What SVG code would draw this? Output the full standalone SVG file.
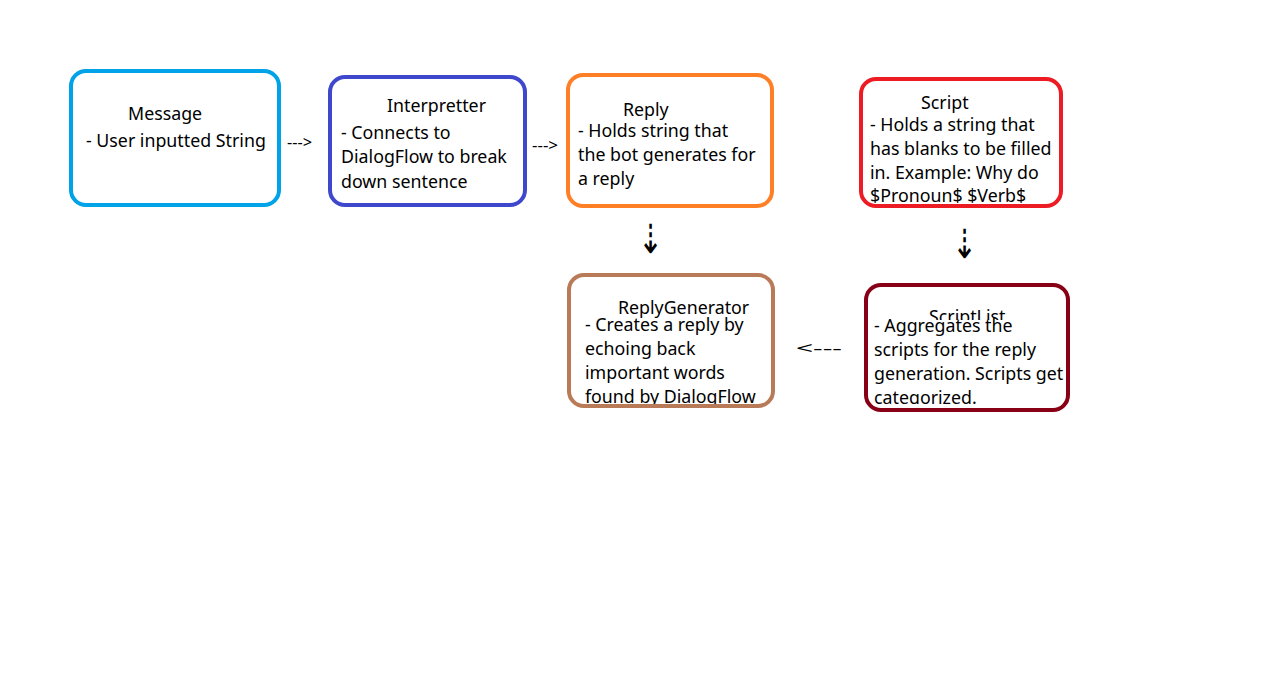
<svg xmlns="http://www.w3.org/2000/svg" width="1274" height="689" viewBox="0 0 1274 689">
<style>
.box{fill:#fff;stroke-width:4}
.t{font-family:"Noto Sans","Liberation Sans",sans-serif;font-size:17.8px;fill:#000}
.arr{font-family:"Noto Sans","Liberation Sans",sans-serif;font-size:16px;fill:#000}
.darr{font-family:"DejaVu Sans",sans-serif;font-weight:200;font-size:40px;fill:#000;text-anchor:middle}
</style>
<defs>
<clipPath id="cpRG"><rect x="560" y="260" width="230" height="144"/></clipPath>
<clipPath id="cpSLt"><rect x="860" y="280" width="220" height="40"/></clipPath>
<clipPath id="cpSLb"><rect x="860" y="318" width="220" height="86"/></clipPath>
</defs>
<rect width="1274" height="689" fill="#fff"/>
<g id="message">
<rect class="box" x="71" y="71" width="208" height="134" rx="15" stroke="#00A2E8"/>
<text class="t" x="128" y="120">Message</text>
<text class="t" x="86" y="147">- User inputted String</text>
</g>
<g id="interpretter">
<rect class="box" x="330" y="77" width="195" height="128" rx="15" stroke="#3F48CC"/>
<text class="t" x="387" y="112">Interpretter</text>
<text class="t" x="341" y="139">- Connects to</text>
<text class="t" x="341" y="163">DialogFlow to break</text>
<text class="t" x="341" y="188">down sentence</text>
</g>
<g id="reply">
<rect class="box" x="568" y="75" width="204" height="131" rx="15" stroke="#FF7F27"/>
<text class="t" x="623" y="116">Reply</text>
<text class="t" x="578" y="137">- Holds string that</text>
<text class="t" x="578" y="161">the bot generates for</text>
<text class="t" x="578" y="185">a reply</text>
</g>
<g id="script">
<rect class="box" x="861" y="79" width="200" height="127" rx="15" stroke="#ED1C24"/>
<text class="t" x="921" y="109">Script</text>
<text class="t" x="870" y="131">- Holds a string that</text>
<text class="t" x="870" y="155">has blanks to be filled</text>
<text class="t" x="870" y="179">in. Example: Why do</text>
<text class="t" x="870" y="202">$Pronoun$ $Verb$</text>
</g>
<g id="replygenerator">
<rect class="box" x="569" y="275" width="204" height="131" rx="15" stroke="#B97A57"/>
<text class="t" x="618" y="314">ReplyGenerator</text>
<g clip-path="url(#cpRG)">
<text class="t" x="585" y="331">- Creates a reply by</text>
<text class="t" x="585" y="355">echoing back</text>
<text class="t" x="585" y="379">important words</text>
<text class="t" x="585" y="403">found by DialogFlow</text>
</g>
</g>
<g id="scriptlist">
<rect class="box" x="866" y="285" width="202" height="125" rx="15" stroke="#880015"/>
<text class="t" x="929" y="323" clip-path="url(#cpSLt)">ScriptList</text>
<g clip-path="url(#cpSLb)">
<text class="t" x="874" y="332">- Aggregates the</text>
<text class="t" x="874" y="356">scripts for the reply</text>
<text class="t" x="874" y="380">generation. Scripts get</text>
<text class="t" x="874" y="404">categorized.</text>
</g>
</g>
<g id="connectors">
<text class="arr" x="287" y="148" textLength="25" lengthAdjust="spacingAndGlyphs">---&gt;</text>
<text class="arr" x="532" y="151" textLength="26" lengthAdjust="spacingAndGlyphs">---&gt;</text>
<text class="darr" transform="translate(650 253) scale(0.75 1)">⇣</text>
<text class="darr" transform="translate(964 258) scale(0.75 1)">⇣</text>
<text class="arr" x="796" y="354" font-size="18" textLength="46" lengthAdjust="spacingAndGlyphs">&lt;---</text>
</g>
</svg>
